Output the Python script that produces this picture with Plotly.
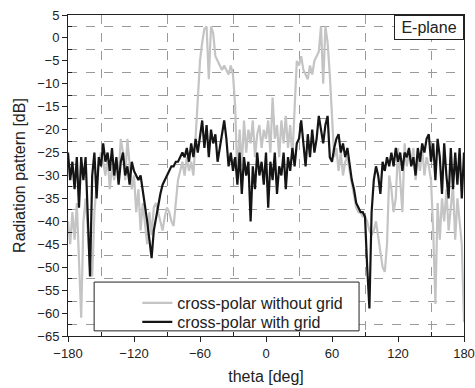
import plotly.graph_objects as go

theta = list(range(-180, 181, 2))

without_grid = [
    -40, -45, -38, -44, -36, -50, -61, -40, -35, -42,
    -50, -52, -38, -32, -27, -25, -27, -30, -26, -33,
    -28, -31, -27, -30, -22, -25, -31, -22, -27, -33,
    -30, -38, -33, -42, -36, -40, -45, -38, -43, -37,
    -36, -38, -40, -42, -39, -37, -38, -40, -41, -36,
    -31, -29, -27, -30, -26, -29, -27, -30, -22, -12,
    -5, -1, 2, 2.5, -9, 2.5, 1, -4, -5, -6,
    -7, -6, -7, -8, -6, -8, -15, -31, -20, -28,
    -18, -25, -20, -23, -18, -26, -21, -19, -24, -20,
    -22, -18, -25, -13, -22, -19, -26, -18, -23, -17,
    -24, -19, -26, -16, -5, -6, -4, -7, -8, -9,
    -6, -8, -5, -4, -3, 2.5, -10, 2.5, -1, -8,
    -18, -26, -24, -29, -25, -30, -27, -26, -29, -32,
    -34, -37, -38, -38, -39, -39, -40, -42, -43, -42,
    -40, -43, -46, -50, -51, -45, -30, -33, -38, -35,
    -24, -30, -38, -23, -28, -25, -27, -24, -31, -26,
    -29, -24, -30, -26, -28, -31, -42, -58, -36, -44,
    -35, -40, -33, -42, -37, -32, -44, -35, -40, -45,
    -62,
]

with_grid = [
    -25, -31, -27, -33, -26, -37, -26, -31, -26, -38,
    -52, -30, -25, -35, -26, -28, -23, -27, -25, -29,
    -24, -30, -26, -32, -27, -25, -30, -28, -32, -27,
    -29, -30, -31, -30, -33, -36, -40, -44, -48, -42,
    -39, -37, -34, -32, -31, -30, -29, -28, -28, -27,
    -27, -26, -25, -26, -24, -27, -23, -26, -22, -25,
    -21, -18, -24, -19, -26, -20, -23, -21, -27, -24,
    -22, -18, -22, -28, -25, -29, -26, -32, -25, -34,
    -26, -30, -27, -40, -28, -33, -25, -30, -27, -32,
    -25, -37, -27, -31, -25, -34, -28, -30, -25, -33,
    -26, -29, -24, -28, -23, -22, -18, -24, -28, -21,
    -26, -20, -25, -22, -17, -20, -23, -19, -17, -26,
    -27, -24, -22, -21, -25, -23, -26, -24, -28, -31,
    -33, -36, -37, -38, -38, -39, -50, -59, -38, -31,
    -28, -30, -34, -27, -29, -26, -28, -25, -28, -24,
    -27, -25, -29, -25, -26, -24, -28, -26, -30, -24,
    -27, -23, -25, -22, -21, -27, -23, -31, -22, -26,
    -34, -23, -30, -35, -24, -33, -25, -32, -24, -35,
    -25,
]

series_names = ["cross-polar without grid", "cross-polar with grid"]
x_ticks = [-180, -120, -60, 0, 60, 120, 180]
y_ticks = list(range(-65, 6, 5))
x_minor = [(a + b) / 2 for a, b in zip(x_ticks[:-1], x_ticks[1:])]
y_minor = [(a + b) / 2 for a, b in zip(y_ticks[:-1], y_ticks[1:])]

FONT = "Liberation Sans, Arial, sans-serif"
TXT = "#222"

fig = go.Figure()
fig.add_trace(go.Scatter(x=theta, y=without_grid, mode="lines",
                         name=series_names[0], legend="legend",
                         line=dict(color="#c4c4c4", width=2.2)))
fig.add_trace(go.Scatter(x=theta, y=with_grid, mode="lines",
                         name=series_names[1], legend="legend2",
                         line=dict(color="#151515", width=2.2)))

axis_common = dict(
    showline=True, linecolor=TXT, linewidth=1, mirror=True,
    ticks="outside", ticklen=5, tickcolor=TXT,
    showgrid=False, zeroline=False, automargin=False,
    tickfont=dict(family=FONT, size=13, color=TXT),
)

fig.update_xaxes(
    range=[-180, 180], tickmode="array", tickvals=x_ticks,
    title=dict(text="theta [deg]", font=dict(family=FONT, size=16, color=TXT), standoff=11),
    minor=dict(tickmode="array", tickvals=x_minor, ticks="inside", ticklen=4, tickcolor=TXT,
               showgrid=True, griddash="dash", gridcolor="#9a9a9a", gridwidth=1),
    **axis_common,
)
fig.update_yaxes(
    range=[-65, 5], tickmode="array", tickvals=y_ticks,
    title=dict(text="Radiation pattern [dB]", font=dict(family=FONT, size=16, color=TXT), standoff=7),
    minor=dict(tickmode="array", tickvals=y_minor, ticks="inside", ticklen=4, tickcolor=TXT,
               showgrid=True, griddash="dash", gridcolor="#9a9a9a", gridwidth=1),
    **axis_common,
)

fig.add_shape(type="rect", xref="paper", yref="paper",
              x0=0.066, x1=0.735, y0=0.016, y1=0.168,
              line=dict(color=TXT, width=1), fillcolor="white", layer="above")

fig.add_annotation(text="E-plane", xref="paper", yref="paper", x=1.0, y=1.0,
                   xanchor="right", yanchor="top", showarrow=False,
                   width=66, height=21, align="center", valign="middle",
                   font=dict(family=FONT, size=16, color=TXT),
                   bordercolor=TXT, borderwidth=1, borderpad=1, bgcolor="white")

legend_style = dict(xanchor="left", yanchor="middle",
                    bgcolor="rgba(0,0,0,0)", borderwidth=0,
                    font=dict(family=FONT, size=16, color=TXT), itemwidth=30)

fig.update_layout(
    width=475, height=388,
    margin=dict(l=68, r=11, t=15, b=52),
    paper_bgcolor="white", plot_bgcolor="white",
    showlegend=True,
    legend=dict(x=0.175, y=0.103, **legend_style),
    legend2=dict(x=0.175, y=0.044, **legend_style),
    font=dict(family=FONT),
)

fig.write_html("out.html")
